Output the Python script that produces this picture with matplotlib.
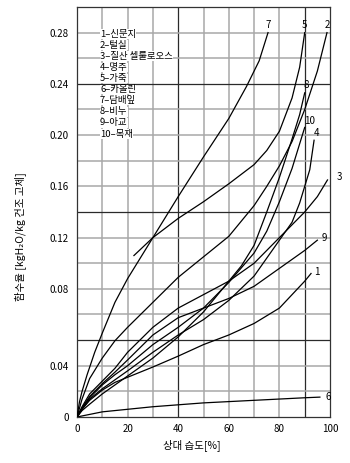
import numpy as np
import matplotlib
matplotlib.use("Agg")
import matplotlib.pyplot as plt

plt.rcParams['font.family'] = ['Noto Sans CJK KR', 'DejaVu Sans']

# relative humidity [%] and moisture [kg H2O / kg dry solid]
rh1 = [0, 2, 5, 10, 15, 20, 30, 40, 50, 60, 70, 80, 85, 90, 92.5]
w1 = [0, 0.006, 0.013, 0.021, 0.027, 0.031, 0.039, 0.045, 0.051, 0.056, 0.062, 0.070, 0.077, 0.086, 0.092]
rh2 = [0, 2, 5, 10, 15, 20, 30, 40, 50, 60, 70, 75, 80, 85, 90, 95, 98.8]
w2 = [0, 0.014, 0.03, 0.044, 0.053, 0.06, 0.073, 0.089, 0.105, 0.121, 0.145, 0.16, 0.176, 0.195, 0.22, 0.25, 0.28]
rh3 = [0, 2, 5, 10, 15, 20, 30, 40, 50, 60, 70, 80, 90, 95, 99]
w3 = [0, 0.008, 0.018, 0.028, 0.038, 0.047, 0.06, 0.07, 0.077, 0.086, 0.1, 0.12, 0.14, 0.152, 0.165]
rh4 = [0, 2, 5, 10, 15, 20, 30, 40, 50, 60, 70, 80, 85, 88, 92, 93.7]
w4 = [0, 0.006, 0.014, 0.022, 0.029, 0.036, 0.047, 0.056, 0.064, 0.074, 0.09, 0.118, 0.132, 0.147, 0.173, 0.196]
rh5 = [22.5, 30, 40, 50, 60, 70, 75, 80, 85, 88, 90]
w5 = [0.106, 0.12, 0.135, 0.148, 0.162, 0.177, 0.188, 0.203, 0.229, 0.253, 0.28]
rh6 = [0, 10, 20, 30, 40, 50, 60, 70, 80, 90, 96]
w6 = [0, 0.004, 0.006, 0.008, 0.0095, 0.011, 0.012, 0.013, 0.014, 0.015, 0.0155]
rh7 = [0, 1, 2, 4, 7, 10, 15, 20, 25, 30, 40, 50, 60, 67, 72, 75.5]
w7 = [0, 0.012, 0.02, 0.033, 0.047, 0.057, 0.073, 0.088, 0.104, 0.12, 0.152, 0.183, 0.213, 0.238, 0.258, 0.28]
rh8 = [0, 2, 5, 10, 15, 20, 30, 40, 50, 60, 65, 70, 75, 80, 85, 88, 90]
w8 = [0, 0.005, 0.01, 0.018, 0.025, 0.032, 0.044, 0.055, 0.068, 0.086, 0.098, 0.114, 0.14, 0.167, 0.197, 0.216, 0.233]
rh9 = [0, 2, 5, 10, 15, 20, 30, 40, 50, 60, 70, 80, 90, 95]
w9 = [0, 0.007, 0.016, 0.026, 0.035, 0.043, 0.056, 0.065, 0.07, 0.075, 0.082, 0.096, 0.11, 0.118]
rh10 = [0, 2, 5, 10, 15, 20, 30, 40, 50, 60, 70, 75, 80, 85, 90]
w10 = [0, 0.007, 0.015, 0.025, 0.033, 0.04, 0.051, 0.06, 0.07, 0.085, 0.108, 0.125, 0.148, 0.174, 0.206]

curves = [(rh1, w1), (rh2, w2), (rh3, w3), (rh4, w4), (rh5, w5),
          (rh6, w6), (rh7, w7), (rh8, w8), (rh9, w9), (rh10, w10)]

# curve number labels (position next to curve end)
label_rh = [94.9, 98.8, 102.8, 94.8, 89.7, 99.5, 75.5, 90.5, 97.8, 92.0]
label_w = [0.093, 0.286, 0.1675, 0.202, 0.286, 0.0156, 0.286, 0.239, 0.12, 0.211]

names = ['신문지', '털실', '질산 셀룰로오스', '명주', '가죽',
         '카올린', '담배잎', '비누', '아교', '목재']

yticks = [0, 0.04, 0.08, 0.12, 0.16, 0.20, 0.24, 0.28]
ytick_labels = ['0', '0.04', '0.08', '0.12', '0.16', '0.20', '0.24', '0.28']
xticks = [0, 20, 40, 60, 80, 100]

# the printed y axis is not uniform: 0..0.04 spans 2 grid rows, 0.04..0.08 spans 3
scale_w = [-1.0, 0, 0.04, 0.08, 1.30]
scale_p = [-50.0, 0, 2, 5, 66]


def fwd(v):
    return np.interp(v, scale_w, scale_p)


def inv(p):
    return np.interp(p, scale_p, scale_w)


fig = plt.figure(figsize=(3.5, 4.63), dpi=100)
ax = fig.add_axes([0.22, 0.0994, 0.7229, 0.8855])
ax.set_yscale('function', functions=(fwd, inv))
ax.set_xlim(0, 100)
ax.set_ylim(0, 0.30)

# grid
for x in range(10, 100, 10):
    dark = x in (40, 90)
    ax.axvline(x, color='#2a2a2a' if dark else '#a8a8a8', lw=0.9 if dark else 1.1, zorder=1)
for p in range(1, 16):
    dark = p in (3, 8, 13)
    ax.axhline(inv(p), color='#2a2a2a' if dark else '#a8a8a8', lw=0.9 if dark else 1.1, zorder=1)

for rh, w in curves:
    ax.plot(rh, w, color='black', lw=0.9, zorder=3)

for i in range(10):
    ax.text(label_rh[i], label_w[i], str(i + 1), fontsize=7, ha='left' if i == 2 else 'center',
            va='center', clip_on=False, zorder=4)

for i, name in enumerate(names):
    ax.text(0.091, 0.934 - i * 0.0271, '%d–%s' % (i + 1, name), transform=ax.transAxes,
            fontsize=6.8, ha='left', va='center', zorder=5,
            bbox=dict(facecolor='white', edgecolor='none', pad=0.2))

ax.set_yticks(yticks)
ax.set_yticklabels(ytick_labels)
ax.set_xticks(xticks)
ax.minorticks_off()
ax.tick_params(length=0, labelsize=7)
ax.tick_params(axis='y', pad=6)
ax.tick_params(axis='x', pad=5)
for s in ax.spines.values():
    s.set_linewidth(0.9)
    s.set_color('#333333')

ax.set_xlabel('상대 습도[%]', fontsize=7.5)
ax.xaxis.set_label_coords(0.455, -0.055)
ax.set_ylabel('함수율 [kgH₂O/kg 건조 고체]', fontsize=7.5)
ax.yaxis.set_label_coords(-0.20, 0.44)

fig.savefig('out.png', dpi=100)
